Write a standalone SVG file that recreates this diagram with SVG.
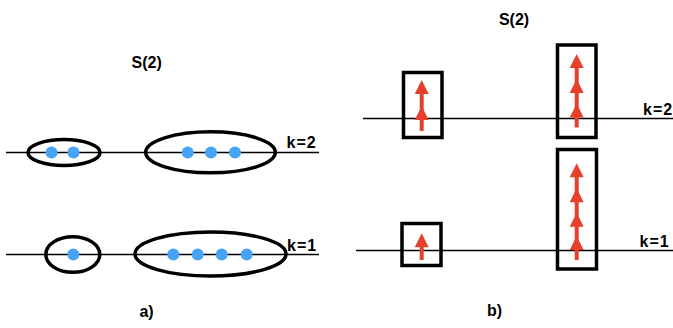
<svg xmlns="http://www.w3.org/2000/svg" width="673" height="328" viewBox="0 0 673 328">
<defs>
<style>
.ln{stroke:#000;stroke-width:1.5;fill:none}
.el{stroke:#000;stroke-width:3.5;fill:none}
.bx{stroke:#000;stroke-width:3.5;fill:none}
.dot{fill:#45A4F6}
.sh{stroke:#E4402C;stroke-width:4;fill:none}
.hd{fill:#E4402C}
.t{font-family:"Liberation Sans",Arial,sans-serif;font-weight:bold;font-size:16px;fill:#000}
.k{letter-spacing:1px}
</style>
<path id="head" d="M0,0 L7,14 L-7,14 Z"/>
</defs>
<g id="connectors">
<line class="ln" x1="6" y1="152.5" x2="319" y2="152.5"/>
<line class="ln" x1="6" y1="254.5" x2="319" y2="254.5"/>
<line class="ln" x1="363" y1="118.5" x2="673" y2="118.5"/>
<line class="ln" x1="356" y1="250.5" x2="673" y2="250.5"/>
</g>
<g id="a-k2-left">
<ellipse class="el" cx="64" cy="152.5" rx="36" ry="13"/>
<circle class="dot" cx="51.5" cy="152.5" r="6"/>
<circle class="dot" cx="73.5" cy="152.5" r="6"/>
</g>
<g id="a-k2-right">
<ellipse class="el" cx="210.5" cy="152.3" rx="64.8" ry="20.5"/>
<circle class="dot" cx="187.7" cy="152.5" r="6"/>
<circle class="dot" cx="211" cy="152.5" r="6"/>
<circle class="dot" cx="235" cy="152.5" r="6"/>
</g>
<g id="a-k1-left">
<ellipse class="el" cx="72.8" cy="254.5" rx="27" ry="17.8"/>
<circle class="dot" cx="73.3" cy="254.5" r="6"/>
</g>
<g id="a-k1-right">
<ellipse class="el" cx="210.5" cy="254" rx="75.5" ry="22"/>
<circle class="dot" cx="173.3" cy="254.5" r="6"/>
<circle class="dot" cx="197.7" cy="254.5" r="6"/>
<circle class="dot" cx="221.7" cy="254.5" r="6"/>
<circle class="dot" cx="246.7" cy="254.5" r="6"/>
</g>
<g id="b-k2-left">
<rect class="bx" x="403.5" y="72.5" width="38.5" height="65"/>
<line class="sh" x1="421.7" y1="131" x2="421.7" y2="90"/>
<use href="#head" class="hd" x="421.7" y="80"/>
<use href="#head" class="hd" x="421.7" y="106"/>
</g>
<g id="b-k2-right">
<rect class="bx" x="557.5" y="45" width="38.5" height="92.5"/>
<line class="sh" x1="576.7" y1="127.5" x2="576.7" y2="64"/>
<use href="#head" class="hd" x="576.7" y="54"/>
<use href="#head" class="hd" x="576.7" y="79"/>
<use href="#head" class="hd" x="576.7" y="103.5"/>
</g>
<g id="b-k1-left">
<rect class="bx" x="402" y="223.5" width="39" height="42"/>
<line class="sh" x1="421.7" y1="260" x2="421.7" y2="243"/>
<use href="#head" class="hd" x="421.7" y="233.3"/>
</g>
<g id="b-k1-right">
<rect class="bx" x="557.5" y="149.5" width="39" height="119.5"/>
<line class="sh" x1="576.7" y1="260" x2="576.7" y2="173"/>
<use href="#head" class="hd" x="576.7" y="163.3"/>
<use href="#head" class="hd" x="576.7" y="188.3"/>
<use href="#head" class="hd" x="576.7" y="212.7"/>
<use href="#head" class="hd" x="576.7" y="236"/>
</g>
<g id="labels">
<text class="t" x="146.7" y="68" text-anchor="middle">S(2)</text>
<text class="t" x="514" y="25" text-anchor="middle">S(2)</text>
<text class="t k" x="286.5" y="148.3">k=2</text>
<text class="t k" x="287" y="250.5">k=1</text>
<text class="t k" x="643" y="114.5">k=2</text>
<text class="t k" x="639.5" y="246.7">k=1</text>
<text class="t" x="146.5" y="317" text-anchor="middle">a)</text>
<text class="t" x="494.5" y="316" text-anchor="middle">b)</text>
</g>
</svg>
